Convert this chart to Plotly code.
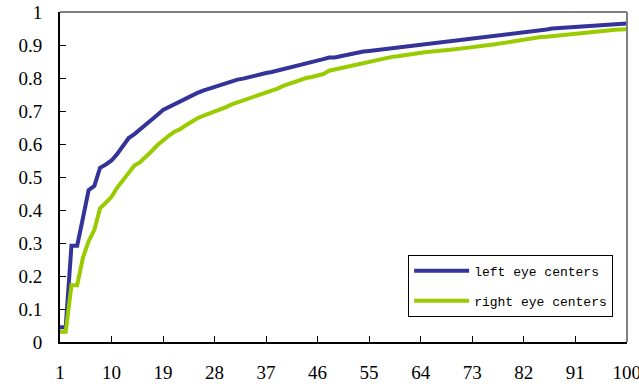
import plotly.graph_objects as go

x_idx = list(range(1, 101))

left_eye = [
    0.045, 0.045, 0.292, 0.292, 0.375, 0.460, 0.473, 0.528, 0.538, 0.550,
    0.570, 0.594, 0.618, 0.630, 0.645, 0.662, 0.675, 0.688, 0.703, 0.712,
    0.722, 0.730, 0.740, 0.748, 0.755, 0.762, 0.768, 0.774, 0.780, 0.786,
    0.792, 0.795, 0.798, 0.803, 0.808, 0.812, 0.815, 0.818, 0.822, 0.828,
    0.833, 0.836, 0.840, 0.845, 0.848, 0.852, 0.857, 0.862, 0.862, 0.866,
    0.870, 0.874, 0.878, 0.880, 0.882, 0.884, 0.887, 0.889, 0.892, 0.895,
    0.897, 0.899, 0.900, 0.902, 0.904, 0.905, 0.907, 0.909, 0.912, 0.914,
    0.915, 0.917, 0.918, 0.920, 0.923, 0.926, 0.928, 0.930, 0.932, 0.935,
    0.937, 0.938, 0.940, 0.942, 0.945, 0.947, 0.950, 0.951, 0.952, 0.954,
    0.956, 0.957, 0.958, 0.959, 0.960, 0.961, 0.962, 0.964, 0.965, 0.965,
]

right_eye = [
    0.031, 0.031, 0.172, 0.172, 0.255, 0.305, 0.340, 0.405, 0.422, 0.440,
    0.468, 0.490, 0.515, 0.535, 0.545, 0.560, 0.578, 0.596, 0.612, 0.625,
    0.637, 0.645, 0.657, 0.668, 0.678, 0.685, 0.691, 0.697, 0.704, 0.712,
    0.720, 0.726, 0.732, 0.737, 0.742, 0.747, 0.753, 0.760, 0.768, 0.776,
    0.782, 0.790, 0.796, 0.800, 0.803, 0.806, 0.812, 0.822, 0.826, 0.830,
    0.834, 0.837, 0.840, 0.844, 0.848, 0.853, 0.858, 0.862, 0.864, 0.866,
    0.869, 0.873, 0.876, 0.878, 0.879, 0.880, 0.881, 0.883, 0.885, 0.887,
    0.889, 0.891, 0.892, 0.893, 0.896, 0.899, 0.902, 0.905, 0.908, 0.911,
    0.914, 0.917, 0.920, 0.922, 0.924, 0.925, 0.927, 0.929, 0.931, 0.933,
    0.935, 0.936, 0.937, 0.939, 0.940, 0.942, 0.944, 0.946, 0.947, 0.948,
]

x_ticks = [1, 10, 19, 28, 37, 46, 55, 64, 73, 82, 91, 100]
y_ticks = [0, 0.1, 0.2, 0.3, 0.4, 0.5, 0.6, 0.7, 0.8, 0.9, 1]
y_tick_labels = ["0", "0.1", "0.2", "0.3", "0.4", "0.5", "0.6", "0.7", "0.8", "0.9", "1"]

serif = "Times New Roman, Liberation Serif, serif"
mono = "Courier New, Liberation Mono, monospace"

fig = go.Figure()
fig.add_trace(go.Scatter(x=x_idx, y=left_eye, mode="lines", name="left eye centers",
                         line=dict(color="#333399", width=4), legendgroup="a"))
fig.add_trace(go.Scatter(x=x_idx, y=right_eye, mode="lines", name="right eye centers",
                         line=dict(color="#99CC00", width=4), legendgroup="b"))

fig.update_layout(
    width=639, height=387,
    margin=dict(l=60, r=12, t=12, b=45),
    paper_bgcolor="white", plot_bgcolor="white",
    font=dict(family=serif, size=19, color="black"),
    showlegend=True,
    legend=dict(
        x=0.614, y=0.264, xanchor="left", yanchor="top",
        bgcolor="white", bordercolor="black", borderwidth=1,
        font=dict(family=mono, size=13, color="black"),
        traceorder="grouped", tracegroupgap=10, itemwidth=55,
    ),
    xaxis=dict(range=[1, 100.05], tickmode="array", tickvals=x_ticks,
               showgrid=False, zeroline=False, showline=True, linecolor="black",
               linewidth=2, ticks="inside", ticklen=6, tickcolor="black",
               tickwidth=1, ticklabelstandoff=12, automargin=False,
               ticklabeloverflow="allow"),
    yaxis=dict(range=[0, 1], tickmode="array", tickvals=y_ticks, ticktext=y_tick_labels,
               showgrid=False, zeroline=False, showline=True, linecolor="black",
               linewidth=2, ticks="inside", ticklen=6, tickcolor="black",
               tickwidth=1, ticklabelstandoff=12, automargin=False,
               ticklabeloverflow="allow"),
    shapes=[
        dict(type="line", xref="paper", yref="paper", x0=0, x1=1, y0=1, y1=1,
             line=dict(color="#808080", width=2)),
        dict(type="line", xref="paper", yref="paper", x0=1, x1=1, y0=0, y1=1,
             line=dict(color="#808080", width=2)),
    ],
)

fig.write_html("out.html", config={"displayModeBar": False},
               post_script="document.body.style.margin='0';")
